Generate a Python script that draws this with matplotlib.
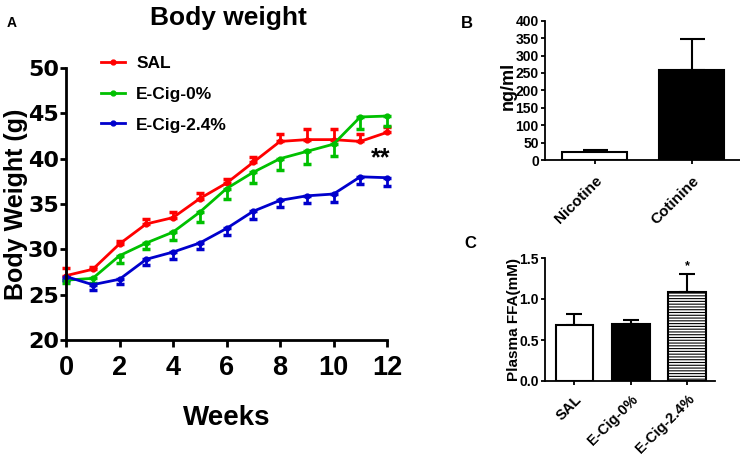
import matplotlib
matplotlib.use("Agg")
import matplotlib.pyplot as plt
from matplotlib.lines import Line2D
import numpy as np

plt.rcParams['font.family'] = ['Liberation Sans', 'DejaVu Sans']
plt.rcParams['font.weight'] = 'bold'
plt.rcParams['hatch.color'] = '#777777'
plt.rcParams['hatch.linewidth'] = 0.8

# ---- Panel A data ----
weeks = list(range(13))
sal = [27.1, 27.8, 30.6, 32.8, 33.5, 35.6, 37.3, 39.6, 41.9, 42.1, 42.1, 41.9, 42.9]
sal_err = [0.8, 0.3, 0.3, 0.5, 0.6, 0.6, 0.5, 0.6, 0.8, 1.2, 1.2, 0.8, 0.6]
ecig0 = [26.6, 26.8, 29.3, 30.7, 31.9, 34.1, 36.7, 38.5, 40.0, 40.8, 41.6, 44.6, 44.7]
ecig0_err = [0.3, 0.5, 0.8, 0.7, 0.9, 1.1, 1.2, 1.2, 1.2, 1.4, 1.3, 1.3, 1.1]
ecig24 = [27.0, 26.1, 26.7, 28.9, 29.7, 30.7, 32.3, 34.2, 35.4, 35.9, 36.1, 38.0, 37.9]
ecig24_err = [0.4, 0.6, 0.5, 0.6, 0.8, 0.7, 0.7, 0.8, 0.7, 0.8, 0.9, 0.8, 0.9]
series_names = ['SAL', 'E-Cig-0%', 'E-Cig-2.4%']

# ---- Panel B data ----
b_cats = ['Nicotine', 'Cotinine']
b_vals = [24, 257]
b_err = [5, 91]

# ---- Panel C data ----
c_cats = ['SAL', 'E-Cig-0%', 'E-Cig-2.4%']
c_vals = [0.68, 0.69, 1.08]
c_err = [0.14, 0.06, 0.23]

W, H = 740, 455
fig = plt.figure(figsize=(W / 100, H / 100), dpi=100)

def box(l, t, r, b):
    return [l / W, 1 - b / H, (r - l) / W, (b - t) / H]

# ===== Panel A =====
axA = fig.add_axes(box(66, 68, 387, 340))
colors = ['#ff0000', '#00c000', '#0000cc']
data = [(sal, sal_err, 'up'), (ecig0, ecig0_err, 'down'), (ecig24, ecig24_err, 'down')]
for (vals, err, d), c, name in zip(data, colors, series_names):
    vals = np.array(vals)
    err = np.array(err)
    if d == 'up':
        yerr = [np.zeros_like(err), err]
    else:
        yerr = [err, np.zeros_like(err)]
    axA.errorbar(weeks, vals, yerr=yerr, color=c, lw=2, marker='o', ms=3.5,
                 elinewidth=2, capsize=3, capthick=2.5, clip_on=False)
axA.set_xlim(0, 12)
axA.set_ylim(20, 50)
axA.set_xticks([0, 2, 4, 6, 8, 10, 12])
axA.set_yticks([20, 25, 30, 35, 40, 45, 50])
for s in ['top', 'right']:
    axA.spines[s].set_visible(False)
for s in ['left', 'bottom']:
    axA.spines[s].set_linewidth(2)
axA.tick_params(axis='y', width=2, length=4, labelsize=16, pad=1)
axA.tick_params(axis='x', width=2, length=5, labelsize=19.5, pad=6)
for lab in axA.get_yticklabels():
    lab.set_fontweight('bold')
    lab.set_family(['DejaVu Sans'])
for lab in axA.get_xticklabels():
    lab.set_fontweight('bold')
axA.set_xlabel('Weeks', fontsize=20, fontweight='bold', labelpad=17)
axA.set_ylabel('Body Weight (g)', fontsize=18, fontweight='bold')
axA.yaxis.set_label_coords((28 - 66) / 321, 0.5)
handles = [Line2D([0], [0], color=c, lw=2, marker='o', ms=3.5) for c in colors]
leg = axA.legend(handles, series_names, loc='upper left', bbox_to_anchor=(0.086, 1.069),
                 frameon=False, prop={'size': 12.5, 'weight': 'bold'}, handlelength=1.4,
                 labelspacing=0.89, handletextpad=0.65, borderaxespad=0)
axA.text(11.75, 40.0, '**', fontsize=18, fontweight='bold', ha='center', va='center')
fig.text(228 / W, 1 - 18 / H, 'Body weight', fontsize=19, fontweight='bold',
         ha='center', va='center')
fig.text(12 / W, 1 - 23 / H, 'A', fontsize=10, fontweight='bold', ha='center', va='center')

# ===== Panel B =====
axB = fig.add_axes(box(545, 20.7, 740, 160))
xb = np.arange(len(b_cats))
axB.bar(xb, b_vals, width=0.67, color=['white', 'black'], edgecolor='black', linewidth=1.5, zorder=2)
axB.errorbar(xb, b_vals, yerr=[np.zeros(len(b_err)), b_err], fmt='none', ecolor='black',
             elinewidth=1.5, capsize=9, capthick=1.5, zorder=1)
axB.set_xlim(-0.515, 1.495)
axB.set_ylim(0, 400)
axB.set_yticks(range(0, 401, 50))
axB.set_xticks(xb)
axB.set_xticklabels(b_cats, rotation=45, ha='right', rotation_mode='anchor',
                    fontsize=11, fontweight='bold')
for s in ['top', 'right']:
    axB.spines[s].set_visible(False)
for s in ['left', 'bottom']:
    axB.spines[s].set_linewidth(1.3)
axB.tick_params(axis='y', width=1.3, length=3, labelsize=10, pad=1.5)
axB.tick_params(axis='x', width=1.3, length=3, pad=7)
for lab in axB.get_yticklabels():
    lab.set_fontweight('bold')
axB.set_ylabel('ng/ml', fontsize=13, fontweight='bold')
axB.yaxis.set_label_coords((517 - 545) / 195, (160 - 86) / 139.3)
fig.text(467 / W, 1 - 23 / H, 'B', fontsize=12, fontweight='bold', ha='center', va='center')

# ===== Panel C =====
axC = fig.add_axes(box(545, 258, 715, 381))
xc = np.arange(len(c_cats))
bars = axC.bar(xc, c_vals, width=0.67, color=['white', 'black', 'white'],
               edgecolor='black', linewidth=1.5, zorder=2)
bars[2].set_hatch('-' * 6)
axC.errorbar(xc, c_vals, yerr=[np.zeros(len(c_err)), c_err], fmt='none', ecolor='black',
             elinewidth=1.5, capsize=6, capthick=1.5, zorder=1)
axC.text(xc[2], c_vals[2] + c_err[2] + 0.02, '*', fontsize=9, fontweight='bold',
         ha='center', va='bottom')
axC.set_xlim(-0.524, 2.497)
axC.set_ylim(0, 1.5)
axC.set_yticks([0.0, 0.5, 1.0, 1.5])
axC.set_yticklabels(['0.0', '0.5', '1.0', '1.5'])
axC.set_xticks(xc)
axC.set_xticklabels(c_cats, rotation=45, ha='right', rotation_mode='anchor',
                    fontsize=10.5, fontweight='bold')
for s in ['top', 'right']:
    axC.spines[s].set_visible(False)
for s in ['left', 'bottom']:
    axC.spines[s].set_linewidth(1.3)
axC.tick_params(axis='y', width=1.3, length=3, labelsize=10, pad=1.5)
axC.tick_params(axis='x', width=1.3, length=3, pad=5)
for lab in axC.get_yticklabels():
    lab.set_fontweight('bold')
axC.set_ylabel('Plasma FFA(mM)', fontsize=11, fontweight='bold')
axC.yaxis.set_label_coords((521 - 545) / 170, 0.5)
fig.text(470 / W, 1 - 243 / H, 'C', fontsize=12, fontweight='bold', ha='center', va='center')

fig.savefig('out.png', dpi=100)
